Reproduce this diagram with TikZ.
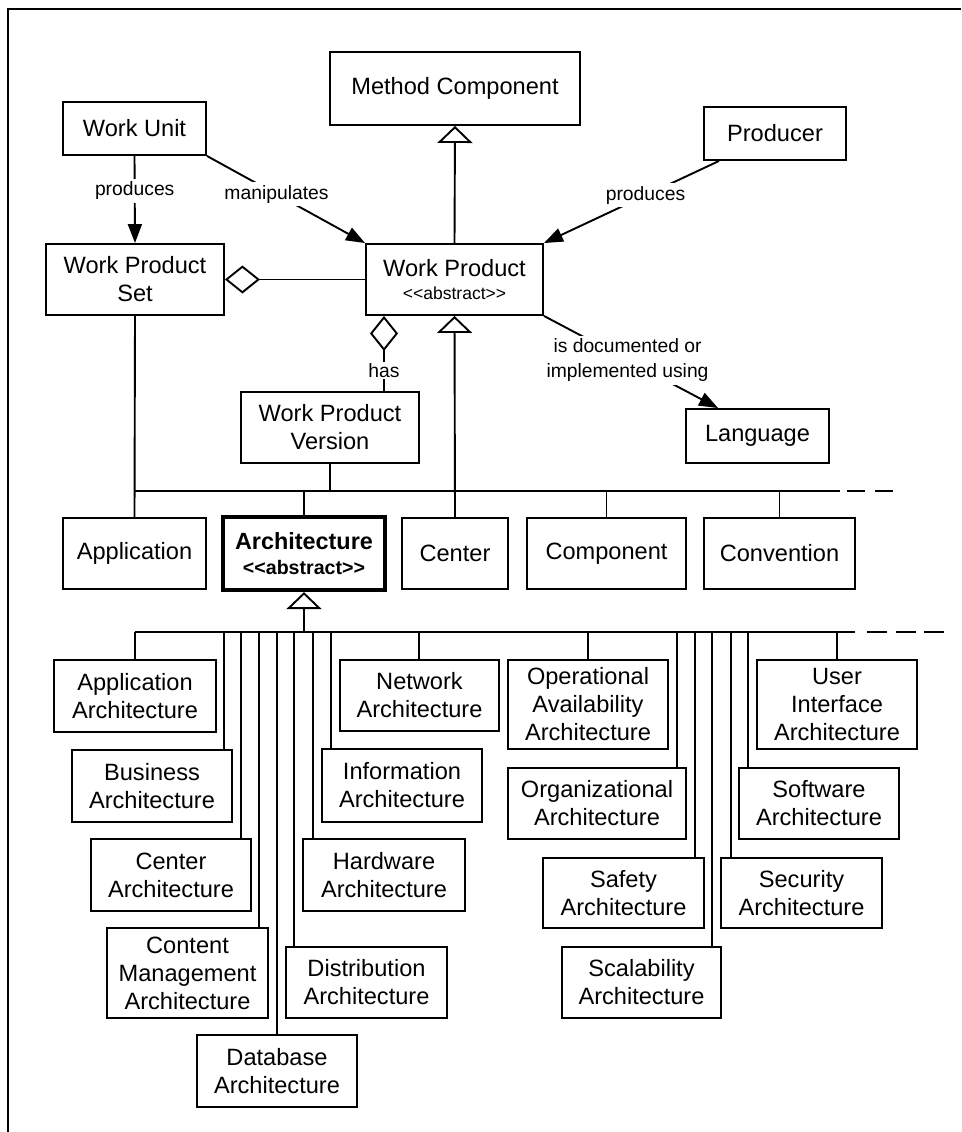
\documentclass[tikz,border=0pt]{standalone}
\usepackage{fontspec}
\setmainfont{Liberation Sans}
\usetikzlibrary{arrows.meta,calc}

% stereotype text such as <<abstract>> (kerns keep << and >> from turning into guillemets)
\newcommand\stereo[1]{<\kern0pt<#1>\kern0pt>}
% \umlbox[options]{name}{x1}{y1}{x2}{y2}{text}: a class box given by its corners
\newcommand\umlbox[7][]{\node[box,#1,minimum width={#5-#3},minimum height={#6-#4}] (#2) at ({(#3+#5)/2},{(#4+#6)/2}) {#7};}

\begin{document}
\begin{tikzpicture}[x=1pt,y=-1pt,
  box/.style={draw,line width=1.9pt,inner sep=0pt,align=center,font=\fontsize{23.6}{28}\selectfont},
  lbl/.style={fill=white,inner sep=3pt,align=center,font=\fontsize{19.3}{25}\selectfont},
  wire/.style={line width=1.9pt},
  arr/.style={wire,-{Triangle[length=19pt,width=14pt]}},
  gen/.style={wire,-{Triangle[open,length=17pt,width=35pt]}},
  agg/.style={wire,-{Diamond[open,length=35pt,width=28pt]}}]
\useasboundingbox (0,0) rectangle (961,1132);

% frame
\draw[line width=1.2pt] (8,1132) -- (8,9) -- (961,9);

% upper classes
\umlbox{mc}{330}{52}{580}{125}{Method Component}
\umlbox{wu}{63}{102}{206}{155}{Work Unit}
\umlbox{producer}{704}{107}{846}{160}{Producer}
\umlbox{wps}{46}{244}{224}{315}{Work Product\\Set}
\umlbox[font=\fontsize{23.6}{23}\selectfont]{wp}{366}{244}{543}{315}{Work Product\\{\fontsize{17.5}{21}\selectfont\stereo{abstract}}}
\umlbox{wpv}{241}{392}{419}{463}{Work Product\\Version}
\umlbox{lang}{686}{409}{829}{463}{Language}

% second level
\umlbox{app}{63}{518}{206}{589}{Application}
\umlbox[line width=4.2pt,font=\fontsize{23.4}{24.5}\selectfont\bfseries]{arch}{223}{517}{385}{590}{Architecture\\{\fontsize{19.6}{24}\selectfont\stereo{abstract}}}
\umlbox{ctr}{402}{518}{508}{589}{Center}
\umlbox{comp}{527}{518}{686}{589}{Component}
\umlbox{conv}{704}{518}{855}{589}{Convention}

% architecture kinds
\umlbox{appa}{54}{660}{216}{732}{Application\\Architecture}
\umlbox{busa}{72}{750}{232}{822}{Business\\Architecture}
\umlbox{cena}{91}{839}{251}{911}{Center\\Architecture}
\umlbox{cma}{107}{928}{268}{1018}{Content\\Management\\Architecture}
\umlbox{dba}{197}{1035}{357}{1107}{Database\\Architecture}
\umlbox{disa}{286}{947}{447}{1018}{Distribution\\Architecture}
\umlbox{hwa}{303}{839}{465}{911}{Hardware\\Architecture}
\umlbox{infa}{322}{749}{482}{822}{Information\\Architecture}
\umlbox{neta}{340}{660}{499}{731}{Network\\Architecture}
\umlbox{opa}{508}{660}{668}{749}{Operational\\Availability\\Architecture}
\umlbox{orga}{508}{768}{686}{839}{Organizational\\Architecture}
\umlbox{safa}{543}{858}{704}{928}{Safety\\Architecture}
\umlbox{scala}{562}{947}{721}{1018}{Scalability\\Architecture}
\umlbox{seca}{721}{858}{882}{928}{Security\\Architecture}
\umlbox{swa}{739}{768}{899}{839}{Software\\Architecture}
\umlbox{uia}{757}{660}{917}{749}{User\\Interface\\Architecture}

% associations
\draw[gen] (wp.north) -- (mc.south);
\draw[arr] (wu.south) -- node[lbl,pos=0.4]{produces} (wps.north);
\draw[arr] (wu.south east) -- node[lbl,pos=0.44]{manipulates} (wp.north west);
\draw[arr] ([xshift=16pt]producer.south west) -- node[lbl,pos=0.42]{produces} (wp.north east);
\draw[agg] (wp.west) -- (wps.east);
\coordinate (hasx) at (384,0);
\draw[agg] (wpv.north -| hasx) -- node[lbl,pos=0.27,inner sep=1.5pt]{has} (wp.south -| hasx);
\draw[arr] (wp.south east) -- node[lbl,pos=0.48]{is documented or\\implemented using} ([xshift=33pt]lang.north west);

% first specialization bus
\coordinate (b1w) at (135,491);
\coordinate (b1e) at (840,491);
\coordinate (b1d) at (847,491);
\coordinate (b1end) at (894,491);
\draw[wire] (b1w) -- (b1e);
\draw[wire,dash pattern=on 18pt off 10pt] (b1d) -- (b1end);
\draw[wire] (wps.south) -- (app.north);
\draw[wire] (wpv.south) -- (wpv.south |- b1w);
\draw[wire] (b1w -| arch.north) -- (arch.north);
\draw[wire] (b1w -| comp.north) -- (comp.north);
\draw[wire] (b1w -| conv.north) -- (conv.north);
\draw[gen] (ctr.north) -- (wp.south);

% second specialization bus
\coordinate (b2w) at (135,632);
\coordinate (b2e) at (855,632);
\coordinate (b2d) at (867,632);
\coordinate (b2end) at (944,632);
\draw[wire] (b2w) -- (b2e);
\draw[wire,dash pattern=on 20pt off 8.5pt] (b2d) -- (b2end);
\draw[gen] (b2w -| arch.south) -- (arch.south);
\draw[wire] (b2w) -- (appa.north);
\foreach \x/\n in {224/busa,241/cena,259/cma,277/dba,294/disa,313/hwa,331/infa,419/neta,
                   588/opa,677/orga,695/safa,712/scala,731/seca,748/swa,837/uia}{
  \coordinate (drop-\n) at (\x,632);
  \draw[wire] (drop-\n) -- (drop-\n |- \n.north);
}
\end{tikzpicture}
\end{document}
